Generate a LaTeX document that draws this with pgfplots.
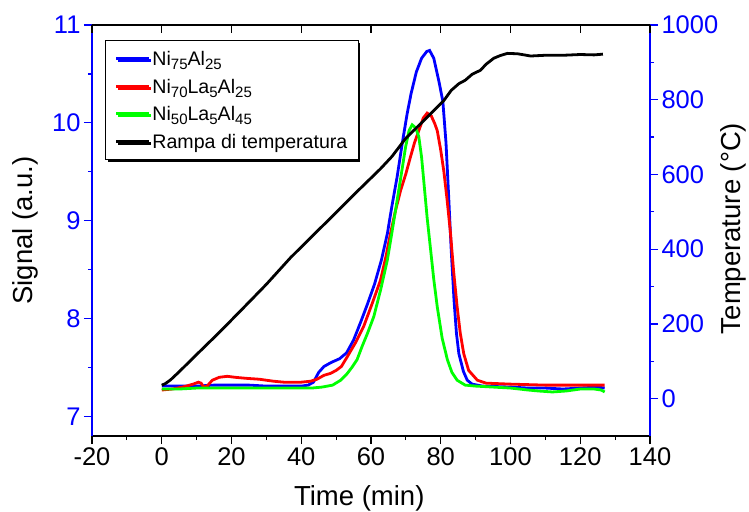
\documentclass[border=0pt]{standalone}
\usepackage{pgfplots}
\pgfplotsset{compat=1.18}
\usepackage{fontspec}
\setmainfont{Liberation Sans}
\usetikzlibrary{shadows}
\newcommand\sub[1]{\raisebox{-4.3pt}{\fontsize{15}{15}\selectfont #1}}
\definecolor{cblue}{RGB}{0,0,255}
\definecolor{cred}{RGB}{255,0,0}
\definecolor{cgreen}{RGB}{0,255,0}
\begin{document}
\begin{tikzpicture}
\useasboundingbox (-92pt,-75pt) rectangle (657pt,436pt);
\pgfplotsset{
  base/.style={
    width=558pt, height=411pt, scale only axis,
    xmin=-20, xmax=140,
    /pgf/number format/assume math mode=true,
    /pgf/number format/1000 sep={},
    tick label style={font=\fontsize{25.5}{25.5}\selectfont},
    label style={font=\fontsize{27.5}{27.5}\selectfont},
    axis line style={-, line width=1.3pt},
    major tick length=8pt, minor tick length=4pt,
    tick style={line width=1.2pt},
    tick align=outside,
    clip=false,
  },
  sig/.style={ymin=6.8, ymax=11},
}
% signal data + bottom x axis
\begin{axis}[base, sig,
  axis x line*=bottom, hide y axis,
  xtick={-20,0,...,140}, minor x tick num=1,
  tick style={black},
  xlabel={Time (min)},
  xlabel style={at={(axis description cs:0.479,-0.168)}, anchor=base},
]
\addplot[cblue, line width=2.8pt] coordinates {
(0,7.31)(5,7.31)(10,7.31)(15,7.32)(20,7.32)(25,7.32)(30,7.31)(35,7.31)(40,7.31)(42,7.32)
(43.5,7.35)(45,7.45)(46.5,7.51)(48.5,7.55)(51,7.59)(53,7.65)(55,7.78)(57,7.96)(59,8.15)
(61,8.35)(63,8.60)(64.7,8.87)(66,9.15)(67.5,9.45)(69,9.80)(70.4,10.10)(71.5,10.30)
(73,10.52)(74.5,10.66)(76,10.73)(76.8,10.74)(78,10.66)(79.5,10.42)(80.6,10.22)(81.5,9.80)
(82.2,9.30)(83,8.70)(83.8,8.19)(84.5,7.85)(85.2,7.64)(86.5,7.46)(87.6,7.37)(89,7.33)
(92,7.31)(100,7.30)(105,7.29)(110,7.29)(115,7.28)(120,7.29)(125,7.30)(127,7.29)
};
\addplot[cred, line width=2.8pt] coordinates {
(0,7.27)(3,7.28)(6,7.30)(9,7.33)(10.5,7.35)(11.3,7.34)(12,7.30)(13,7.31)(14.5,7.37)
(16.5,7.40)(18.8,7.41)(21,7.40)(24,7.39)(28,7.38)(32,7.36)(35,7.35)(40,7.35)(42.7,7.36)
(44.5,7.38)(46.5,7.42)(48.4,7.44)(50,7.47)(51.5,7.51)(53.2,7.61)(55.5,7.75)(57.9,7.92)
(60.3,8.15)(62.7,8.39)(64.2,8.62)(65.6,8.87)(67,9.10)(68.5,9.31)(70,9.48)(71.3,9.65)
(72.5,9.80)(73.7,9.92)(75,10.05)(76.1,10.10)(77.3,10.07)(78.3,9.99)(79,9.92)(80,9.72)
(80.9,9.50)(81.8,9.22)(82.8,8.87)(83.7,8.48)(84.7,8.12)(85.6,7.85)(86.6,7.64)(88,7.47)
(90.5,7.37)(93,7.34)(100,7.33)(110,7.32)(120,7.32)(125,7.32)(127,7.32)
};
\addplot[cgreen, line width=2.8pt] coordinates {
(0,7.28)(5,7.28)(10,7.29)(20,7.29)(30,7.29)(40,7.29)(43,7.29)(46,7.30)(49,7.32)
(51.3,7.37)(53,7.43)(54.5,7.50)(56,7.58)(57.5,7.72)(59,7.85)(60.8,8.02)(62.8,8.30)
(64.7,8.60)(66,8.88)(67.5,9.21)(68.8,9.50)(69.9,9.75)(70.9,9.92)(71.8,9.98)(72.8,9.95)
(73.7,9.86)(74.5,9.65)(75.2,9.38)(76.1,9.03)(77.1,8.70)(78,8.40)(79,8.12)(80.4,7.80)
(81.9,7.58)(83.2,7.45)(84.7,7.37)(87,7.32)(90,7.31)(95,7.30)(100,7.29)(105,7.27)
(108,7.26)(112,7.25)(116,7.26)(120,7.28)(124,7.28)(126,7.27)(127,7.25)
};
\end{axis}
% left y axis
\begin{axis}[base, sig,
  axis y line*=left, hide x axis,
  ytick={7,8,9,10,11}, minor y tick num=1,
  tick style={cblue}, axis line style={cblue},
  tick label style={text=cblue},
  ylabel={Signal (a.u.)},
  ylabel style={at={(axis description cs:-0.1075,0.5)}, anchor=base},
]
\end{axis}
% temperature
\begin{axis}[base, ymin=-100, ymax=1000,
  axis y line*=right, hide x axis,
  ytick={0,200,...,1000}, minor y tick num=1,
  tick style={cblue}, axis line style={cblue},
  tick label style={text=cblue},
  ylabel={Temperature (°C)},
  ylabel style={at={(axis description cs:1.1624,0.505)}, anchor=base, rotate=0},
  legend style={at={(axis description cs:0.0233,0.9635)}, anchor=north west,
    draw=black, line width=1.2pt, fill=white,
    font=\fontsize{19.6}{22}\selectfont,
    drop shadow={shadow xshift=2pt, shadow yshift=-2pt, fill=black, opacity=1},
    inner xsep=9pt, inner ysep=8pt, row sep=7pt,
    nodes={inner sep=2pt}},
  legend cell align=left,
  legend image code/.code={\draw[#1, line cap=butt] (0pt,0pt) -- (33pt,0pt);},
]
\addlegendimage{cblue, line width=2.8pt}
\addlegendentry{\rule[-5pt]{0pt}{20pt}Ni\sub{75}Al\sub{25}}
\addlegendimage{cred, line width=2.8pt}
\addlegendentry{\rule[-5pt]{0pt}{20pt}Ni\sub{70}La\sub{5}Al\sub{25}}
\addlegendimage{cgreen, line width=2.8pt}
\addlegendentry{\rule[-5pt]{0pt}{20pt}Ni\sub{50}La\sub{5}Al\sub{45}}
\addplot[black, line width=2.8pt] coordinates {
(0,36)(1,40)(2.5,50)(5,72)(10,118)(16.8,180)(25,258)(30,306)(36.9,377)(45,452)
(50,498)(55,545)(62.7,615)(66,648)(69.9,696)(75,743)(80.9,798)(83,825)(85.2,843)
(87,852)(89,868)(91.4,879)(93,895)(95.2,911)(97,918)(99.1,924)(102,923)(105.8,917)
(110,919)(115.2,919)(120,921)(124,920)(126.5,922)
};
\addlegendentry{\rule[-5pt]{0pt}{20pt}Rampa di temperatura}
\end{axis}
% top x axis with inward major ticks
\begin{axis}[base, sig,
  axis x line*=top, hide y axis,
  xtick={-20,0,...,140}, xticklabels={},
  tick align=inside, tick style={black},
]
\end{axis}
\end{tikzpicture}
\end{document}
